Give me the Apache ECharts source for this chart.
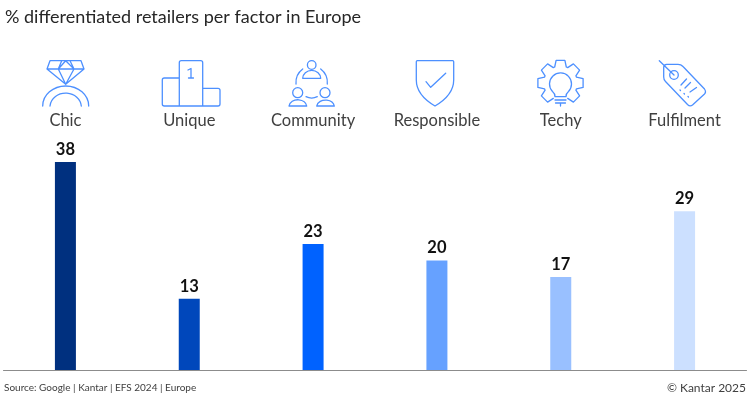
<!DOCTYPE html>
<html>
<head>
    <meta charset="UTF-8">
    <title>% differentiated retailers per factor in Europe</title>
    <style>
        html, body { margin: 0; padding: 0; background: #fff; }
    </style>
    <script src="https://cdn.jsdelivr.net/npm/echarts@6/dist/echarts.min.js"></script>
</head>
<body>
<div id="main" style="width: 750px;height: 400px;"></div>
<script>
    var categories = ['Chic', 'Unique', 'Community', 'Responsible', 'Techy', 'Fulfilment'];
    var values = [38, 13, 23, 20, 17, 29];
    var barColors = ['#00307F', '#0047BB', '#0062FF', '#66A1FF', '#99C0FF', '#CCE0FF'];

    var fontName = 'Lato, "Open Sans", sans-serif';
    var textColor = '#404040';
    var iconColor = '#4D90FF';

    // gear outline for the Techy icon, open at the bottom where the lamp base sits
    function gearPath(cx, cy) {
        var angles = [45, 0, -45, -90, -135, 180, 135];
        var d = '';
        angles.forEach(function (a, i) {
            var pts = [[17, a + 20], [23, a + 11], [23, a - 11], [17, a - 20]];
            pts.forEach(function (p, j) {
                var rad = p[1] * Math.PI / 180;
                var x = (cx + p[0] * Math.cos(rad)).toFixed(1);
                var y = (cy + p[0] * Math.sin(rad)).toFixed(1);
                d += (i === 0 && j === 0 ? 'M' : 'L') + x + ' ' + y + ' ';
            });
        });
        return d;
    }

    var iconPaths = [
        // diamond ring
        'M50 60.7 L81 60.7 L84 69 L65.7 84.3 L47 69 Z M47 69 L84 69 M61.7 60.7 L58.3 69 L65.7 84.3 L74 69 L70 60.7 M58.3 69 L65.7 60.7 L74 69' +
        ' M42.7 106 A23 20 0 0 1 88.7 106 M50 106 A15.7 14 0 0 1 81.3 106',
        // podium
        'M179.3 106 L179.3 62.7 Q179.3 60.7 181.3 60.7 L200.7 60.7 Q202.7 60.7 202.7 62.7 L202.7 106 Z' +
        ' M179.3 78 L164.3 78 Q162.3 78 162.3 80 L162.3 104 Q162.3 106 164.3 106 L179.3 106' +
        ' M202.7 88.3 L218 88.3 Q220 88.3 220 90.3 L220 104 Q220 106 218 106 L202.7 106' +
        ' M188 70 L191 68.5 L191 78 M188.5 78 L193.5 78',
        // community
        'M316 65 A4.3 4.3 0 1 1 307.4 65 A4.3 4.3 0 1 1 316 65 Z M302.7 78.3 A9 8 0 0 1 320.7 78.3 Z' +
        ' M296 84 A17 17 0 0 1 302.7 69 M327.3 84 A17 17 0 0 0 320.7 69 M306 96.7 Q311.7 99.5 317.3 96.7' +
        ' M302.7 92.7 A5 5 0 1 1 292.7 92.7 A5 5 0 1 1 302.7 92.7 Z M289 106 A8.9 7 0 0 1 306.7 106 Z' +
        ' M330 92.7 A5 5 0 1 1 320 92.7 A5 5 0 1 1 330 92.7 Z M316.7 106 A8.9 7 0 0 1 334.3 106 Z',
        // shield
        'M417.3 60.7 L452.7 60.7 Q453.7 60.7 453.7 61.7 L453.7 80 Q453.7 95 435 106 Q416.3 95 416.3 80 L416.3 61.7 Q416.3 60.7 417.3 60.7 Z' +
        ' M426 81.7 L430.7 87.3 L445.7 73.3',
        // gear with bulb
        gearPath(560.5, 83) +
        ' M555 96.7 Q555 93.5 552.5 91.5 A11 11 0 1 1 568.5 91.5 Q566 93.5 566 96.7 Z' +
        ' M555 100 L566 100 M555.5 103 L565.5 103 M560.5 103 L560.5 106',
        // price tag
        'M659.3 60.7 L674 75 M678.3 75 A4.3 4.3 0 1 1 669.7 75 A4.3 4.3 0 1 1 678.3 75 Z' +
        ' M666.7 64.3 L678 64.3 Q681 64.3 683 66.5 L704.5 89 Q706.5 92 704.5 94 L692.5 105 Q690 107 687.5 104.5 L665.5 81.5 Q663.7 80 663.7 77 L663.7 67.5 Q663.7 64.3 666.7 64.3 Z' +
        ' M681 85 L686.5 79 M685 88 L690.5 82.5 M690 92 L696.5 87.5 M680 90 L680.5 90.5 M684 93.5 L684.5 94 M688 96.5 L688.5 97'
    ];

    var myChart = echarts.init(document.getElementById('main'));

    // graphic component has no plain path type, so each icon is registered as a shape
    var graphics = iconPaths.map(function (d, i) {
        echarts.graphic.registerShape('icon' + i, echarts.graphic.extendPath(d));
        return {
            type: 'icon' + i,
            silent: true,
            style: { fill: 'none', stroke: iconColor, lineWidth: 1.3, lineJoin: 'round', lineCap: 'round' }
        };
    });
    graphics.push({
        type: 'text', left: 4, top: 383,
        style: { text: 'Source: Google | Kantar | EFS 2024 | Europe', font: '10px ' + fontName, fill: textColor }
    });
    graphics.push({
        type: 'text', right: 4, top: 382,
        style: { text: '© Kantar 2025', font: '12px ' + fontName, fill: textColor }
    });

    option = {
        animation: false,
        backgroundColor: '#fff',
        title: {
            text: '% differentiated retailers per factor in Europe',
            left: 5, top: 8, padding: 0,
            textStyle: { fontFamily: fontName, fontSize: 18, fontWeight: 'normal', color: '#262626' }
        },
        graphic: graphics,
        grid: { left: 3.5, right: 3.5, top: 151, bottom: 30 },
        xAxis: [
            {
                type: 'category',
                data: categories,
                position: 'bottom',
                axisTick: { show: false },
                axisLabel: { show: false },
                axisLine: { lineStyle: { color: '#8C8C8C', width: 1 } }
            },
            {
                type: 'category',
                data: categories,
                position: 'top',
                axisTick: { show: false },
                axisLine: { show: false },
                axisLabel: {
                    margin: 22,
                    interval: 0,
                    fontFamily: fontName,
                    fontSize: 16.5,
                    color: textColor
                }
            }
        ],
        yAxis: { type: 'value', min: 0, max: 40, show: false },
        series: [
            {
                type: 'bar',
                barWidth: 21,
                data: values.map(function (v, i) {
                    return { value: v, itemStyle: { color: barColors[i] } };
                }),
                label: {
                    show: true,
                    position: 'top',
                    distance: 4,
                    fontFamily: fontName,
                    fontSize: 16.5,
                    fontWeight: 'bold',
                    color: '#111'
                }
            }
        ]
    };
    myChart.setOption(option);
</script>
</body>
</html>
